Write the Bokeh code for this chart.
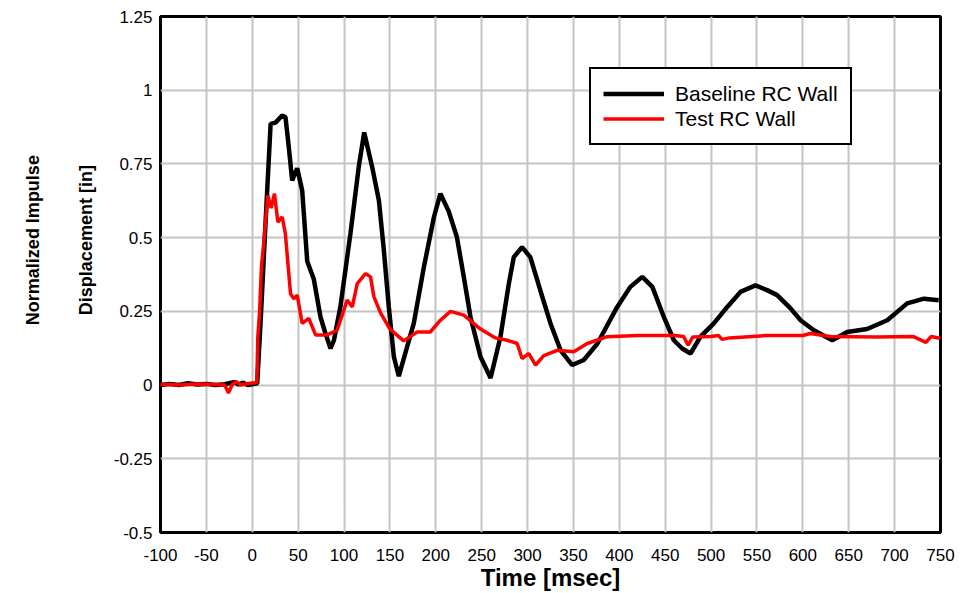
import math
from bokeh.plotting import figure
from bokeh.layouts import row
from bokeh.models import FixedTicker, Range1d, Legend, LegendItem
from bokeh.core.properties import value
from bokeh.embed import file_html
from bokeh.resources import INLINE

# ---- data ----
x_ticks = [-100, -50, 0, 50, 100, 150, 200, 250, 300, 350, 400, 450, 500, 550, 600, 650, 700, 750]
x_tick_labels = ["-100", "-50", "0", "50", "100", "150", "200", "250", "300", "350", "400", "450",
                 "500", "550", "600", "650", "700", "750"]
y_ticks = [-0.5, -0.25, 0, 0.25, 0.5, 0.75, 1.0, 1.25]
y_tick_labels = ["-0.5", "-0.25", "0", "0.25", "0.5", "0.75", "1", "1.25"]
x_title = "Time [msec]"
y_title_lines = ["Normalized Impulse", "Displacement [in]"]

baseline_t = [-100, -90, -80, -70, -60, -50, -40, -30, -20, -15, -10, -5, 0, 5.4, 9, 14.4, 20, 25.3,
              32.6, 36.2, 39.8, 43.5, 49, 54.4, 59.9, 67, 74.4, 79.8, 85.3, 89, 96, 107, 116, 122,
              130.7, 138, 143.4, 148.8, 154.3, 159.7, 176, 187, 198, 205, 214, 223, 230.5, 237.8,
              248.7, 259.7, 270.5, 279.6, 285, 294, 303, 314, 325, 336, 348.7, 361.3, 376, 397.7,
              412, 425, 436, 448.5, 459.4, 468.5, 477.6, 488.5, 503, 517.6, 532, 548.4, 561, 572,
              586.6, 597.5, 612, 632, 648.4, 670, 692, 713.7, 732, 748]
baseline_d = [0.0, 0.004, 0.0, 0.006, 0.002, 0.004, 0.0, 0.003, 0.01, 0.002, 0.008, 0.0, 0.003, 0.006,
              0.21, 0.547, 0.886, 0.89, 0.914, 0.908, 0.807, 0.694, 0.735, 0.66, 0.42, 0.36, 0.23,
              0.175, 0.124, 0.152, 0.265, 0.514, 0.739, 0.857, 0.739, 0.626, 0.457, 0.265, 0.096,
              0.03, 0.209, 0.40, 0.57, 0.649, 0.59, 0.502, 0.367, 0.231, 0.096, 0.024, 0.164, 0.344,
              0.434, 0.468, 0.434, 0.32, 0.209, 0.118, 0.068, 0.085, 0.14, 0.265, 0.333, 0.367,
              0.333, 0.231, 0.152, 0.124, 0.107, 0.164, 0.209, 0.265, 0.316, 0.338, 0.322, 0.305,
              0.26, 0.22, 0.186, 0.152, 0.18, 0.19, 0.22, 0.277, 0.293, 0.288]

test_t = [-100, -80, -60, -40, -30, -26, -22, -18, -12, -5, 5, 6, 8, 10, 13, 17, 20.6, 24.2, 27.9,
          32.6, 36, 41.7, 45.3, 49, 54.4, 61.6, 69, 81.6, 92.5, 103.4, 109, 114.4, 123.4, 128.9,
          132.5, 139.8, 150, 165, 179.7, 194, 205, 216, 230.5, 248.7, 265, 277.8, 288.7, 294,
          301.4, 308.7, 317.7, 332.3, 350.4, 365, 386.8, 420, 460, 470, 475, 480, 500, 508, 512,
          520, 560, 600, 608, 630, 680, 720, 734, 740, 750]
test_d = [0.003, 0.0, 0.004, 0.002, 0.0, -0.027, 0.0, 0.012, 0.0, 0.005, 0.008, 0.16, 0.25, 0.40,
          0.50, 0.643, 0.60, 0.649, 0.553, 0.57, 0.515, 0.31, 0.293, 0.305, 0.209, 0.226, 0.17,
          0.17, 0.186, 0.288, 0.265, 0.344, 0.378, 0.367, 0.30, 0.245, 0.19, 0.15, 0.18, 0.18,
          0.22, 0.25, 0.237, 0.19, 0.16, 0.152, 0.141, 0.09, 0.107, 0.068, 0.10, 0.118, 0.113,
          0.141, 0.164, 0.168, 0.168, 0.165, 0.135, 0.163, 0.165, 0.168, 0.155, 0.16, 0.168,
          0.168, 0.175, 0.165, 0.163, 0.165, 0.145, 0.165, 0.158]

series_names = ["Baseline RC Wall", "Test RC Wall"]
series_colors = ["#000000", "#ff0000"]

FONT = "Liberation Sans"
LEFT_W = 110
H = 593

# ---- left strip carrying the two-line y title ----
t = figure(width=LEFT_W, height=H, x_range=Range1d(0, LEFT_W), y_range=Range1d(0, H),
           output_backend="svg", toolbar_location=None,
           x_axis_location=None, y_axis_location=None, min_border=0)
t.outline_line_color = None
t.grid.visible = False
t.background_fill_color = "white"
t.border_fill_color = "white"
t.text(x=[32, 85], y=[336, 336], text=y_title_lines, angle=math.pi / 2,
       text_align="center", text_baseline="middle",
       text_font=value(FONT), text_font_style="bold", text_font_size="18px",
       text_color="black")

# ---- main chart ----
p = figure(width=958 - LEFT_W, height=H, x_range=Range1d(-100, 750), y_range=Range1d(-0.5, 1.25),
           output_backend="svg", toolbar_location=None,
           min_border_left=160 - LEFT_W, min_border_right=18, min_border_top=16, min_border_bottom=60)
p.background_fill_color = "white"
p.border_fill_color = "white"
p.outline_line_color = "black"
p.outline_line_width = 3

p.xaxis.ticker = FixedTicker(ticks=x_ticks)
p.xaxis.major_label_overrides = {v: s for v, s in zip(x_ticks, x_tick_labels)}
p.yaxis.ticker = FixedTicker(ticks=y_ticks)
p.yaxis.major_label_overrides = {v: s for v, s in zip(y_ticks, y_tick_labels)}
p.xgrid.ticker = FixedTicker(ticks=x_ticks[1:-1])
p.ygrid.ticker = FixedTicker(ticks=y_ticks[1:-1])

for ax in (p.xaxis[0], p.yaxis[0]):
    ax.axis_line_color = None
    ax.major_tick_line_color = None
    ax.minor_tick_line_color = None
    ax.major_tick_out = 0
    ax.major_tick_in = 0
    ax.minor_tick_out = 0
    ax.major_label_text_font = FONT
    ax.major_label_text_font_size = "17px"
    ax.major_label_text_color = "black"

p.xaxis.major_label_standoff = 16
p.xaxis.axis_label = x_title
p.xaxis.axis_label_text_font = FONT
p.xaxis.axis_label_text_font_style = "bold"
p.xaxis.axis_label_text_color = "black"
p.xaxis.axis_label_text_font_size = "24px"
p.xaxis.axis_label_standoff = 0

p.yaxis.major_label_standoff = 8

p.grid.grid_line_color = "#c4c4c4"
p.grid.grid_line_width = 2

r1 = p.line(baseline_t, baseline_d, line_color=series_colors[0], line_width=4.5)
r2 = p.line(test_t, test_d, line_color=series_colors[1], line_width=3.5)

legend = Legend(items=[LegendItem(label=series_names[0], renderers=[r1]),
                       LegendItem(label=series_names[1], renderers=[r2])],
                location=(429, 387))
legend.border_line_color = "black"
legend.border_line_alpha = 1.0
legend.border_line_width = 2
legend.background_fill_color = "white"
legend.background_fill_alpha = 1
legend.padding = 12
legend.spacing = 0
legend.margin = 0
legend.label_height = 25
legend.glyph_height = 25
legend.glyph_width = 61
legend.label_standoff = 11
legend.label_text_font = FONT
legend.label_text_font_size = "21px"
legend.label_text_color = "black"
p.add_layout(legend)

layout = row(t, p, spacing=0)
open("out.html", "w").write(file_html(layout, INLINE))
